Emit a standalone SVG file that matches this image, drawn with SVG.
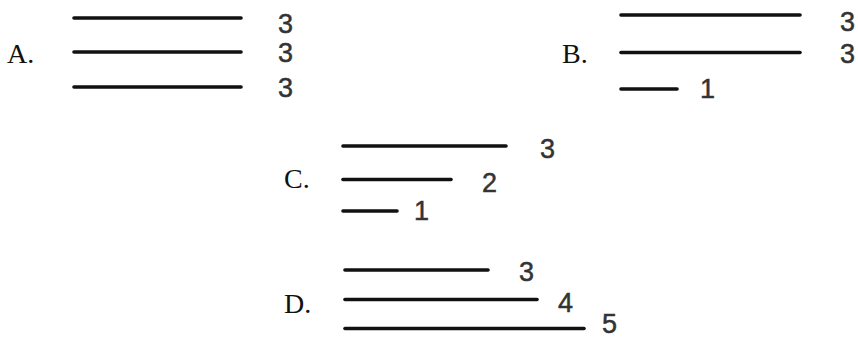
<svg xmlns="http://www.w3.org/2000/svg" width="858" height="339" viewBox="0 0 858 339">
<style>
.bar{stroke:#111;stroke-width:3.6;stroke-linecap:round}
.lab{font-family:"Liberation Serif","Times New Roman",serif;font-size:28px;fill:#111}
.num{font-family:"Liberation Sans",Arial,sans-serif;font-size:27px;fill:#333;stroke:#333;stroke-width:0.5}
</style>
<rect width="858" height="339" fill="#fff"/>
<g id="optionA">
<text class="lab" x="7" y="63">A.</text>
<g id="connectorsA">
<line class="bar" x1="74" y1="18" x2="241" y2="18"/>
<line class="bar" x1="74" y1="52" x2="241" y2="52"/>
<line class="bar" x1="74" y1="87" x2="241" y2="87"/>
</g>
<text class="num" x="278" y="33">3</text>
<text class="num" x="278" y="62">3</text>
<text class="num" x="278" y="96.5">3</text>
</g>
<g id="optionB">
<text class="lab" x="562" y="63">B.</text>
<g id="connectorsB">
<line class="bar" x1="621" y1="15" x2="800" y2="15"/>
<line class="bar" x1="621" y1="52.5" x2="800" y2="52.5"/>
<line class="bar" x1="621" y1="89" x2="677" y2="89"/>
</g>
<text class="num" x="840" y="31">3</text>
<text class="num" x="840" y="63">3</text>
<text class="num" x="700" y="97.5">1</text>
</g>
<g id="optionC">
<text class="lab" x="284" y="188">C.</text>
<g id="connectorsC">
<line class="bar" x1="343" y1="146" x2="506" y2="146"/>
<line class="bar" x1="343" y1="179.5" x2="451" y2="179.5"/>
<line class="bar" x1="343" y1="211" x2="397" y2="211"/>
</g>
<text class="num" x="540" y="157.5">3</text>
<text class="num" x="482" y="191.5">2</text>
<text class="num" x="414" y="220">1</text>
</g>
<g id="optionD">
<text class="lab" x="284" y="313">D.</text>
<g id="connectorsD">
<line class="bar" x1="345" y1="270" x2="488" y2="270"/>
<line class="bar" x1="345" y1="299.5" x2="537" y2="299.5"/>
<line class="bar" x1="345" y1="328.5" x2="584" y2="328.5"/>
</g>
<text class="num" x="519" y="280.5">3</text>
<text class="num" x="558" y="311.5">4</text>
<text class="num" x="602" y="333">5</text>
</g>
</svg>
